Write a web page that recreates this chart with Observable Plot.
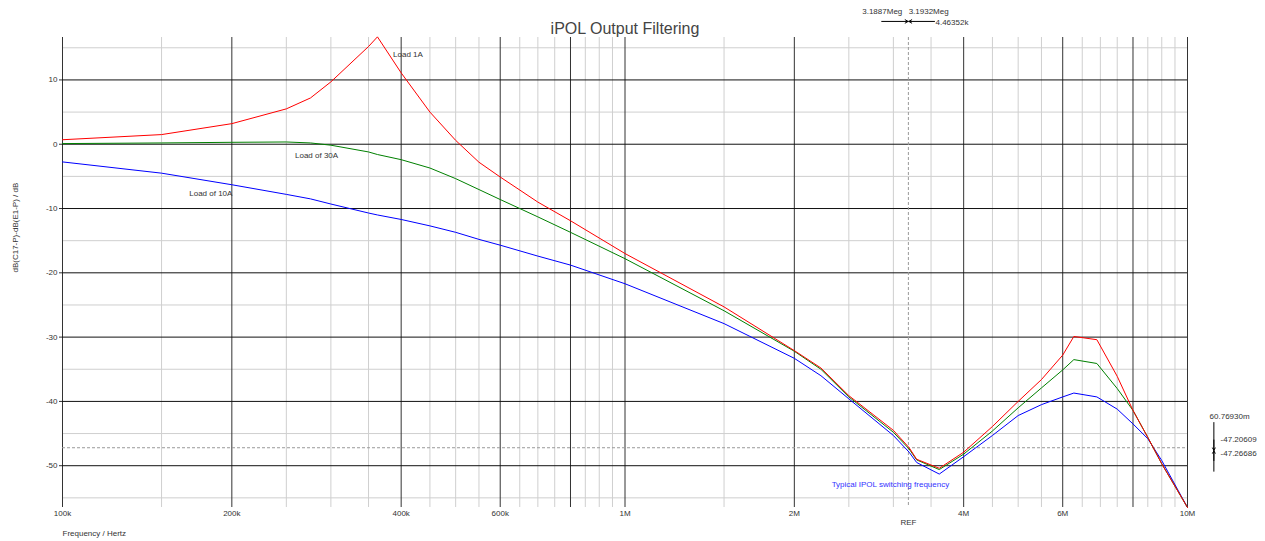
<!DOCTYPE html>
<html><head><meta charset="utf-8">
<script src="https://cdn.jsdelivr.net/npm/d3@7"></script>
<script src="https://cdn.jsdelivr.net/npm/@observablehq/plot@0.6"></script>
<style>body{margin:0;background:#fff;font-family:"Liberation Sans",Arial,sans-serif}</style>
</head><body><div id="chart"></div>
<script>
// Frequency samples (Hz)
const freq = [1e5,1.5e5,2e5,2.5e5,2.76e5,3e5,3.5e5,3.63e5,4e5,4.5e5,5e5,5.5e5,6e5,7e5,8e5,1e6,1.5e6,2e6,2.23e6,2.5e6,3e6,3.2e6,3.3e6,3.62e6,4e6,4.5e6,5e6,5.5e6,6e6,6.28e6,6.9e6,7.5e6,8e6,8.5e6,9e6,1e7];
// dB values per load
const load1A  = [0.7,1.5,3.2,5.5,7.2,9.7,15.2,16.7,11.1,5.0,0.6,-2.8,-5.1,-9.0,-11.9,-17.0,-25.3,-32.1,-34.8,-39.1,-44.5,-47.2,-49.0,-50.4,-47.9,-43.9,-40.0,-36.6,-32.8,-29.9,-30.4,-36.1,-41.4,-45.6,-49.7,-56.5];
const load30A = [0.1,0.2,0.3,0.35,0.2,-0.15,-1.2,-1.6,-2.4,-3.7,-5.35,-7.05,-8.6,-11.3,-13.7,-17.8,-25.9,-32.2,-35.0,-39.3,-44.8,-47.4,-49.1,-50.6,-48.2,-44.6,-41.0,-37.9,-35.1,-33.5,-34.1,-38.0,-41.4,-45.6,-49.7,-56.5];
const load10A = [-2.75,-4.5,-6.3,-7.8,-8.5,-9.3,-10.7,-11.0,-11.7,-12.7,-13.7,-14.8,-15.7,-17.4,-18.8,-21.7,-27.9,-33.3,-36.0,-39.6,-45.3,-47.9,-49.5,-51.3,-48.6,-45.3,-42.2,-40.5,-39.3,-38.7,-39.3,-41.2,-43.5,-45.8,-49.2,-56.5];
// Axes / grid
const xMajor = [1e5,2e5,4e5,6e5,8e5,1e6,2e6,4e6,6e6,8e6,1e7];
const xLabels = ["100k","200k","400k","600k","800k","1M","2M","4M","6M","8M","10M"];
const xMinor = [1.5e5,2.5e5,3e5,3.5e5,4.5e5,5e5,5.5e5,6.5e5,7e5,7.5e5,8.5e5,9e5,9.5e5,1.5e6,2.5e6,3e6,3.5e6,4.5e6,5e6,5.5e6,6.5e6,7e6,7.5e6,8.5e6,9e6,9.5e6];
const yMajor = [10,0,-10,-20,-30,-40,-50];
const yLabels = ["10","0","-10","-20","-30","-40","-50"];
const yMinor = [15,5,-5,-15,-25,-35,-45,-55];
// Cursor readings
const cursorFreq = 3.19e6;
const cursorLevel = -47.206;

const series = [
  {name:"Load of 10A", vals:load10A, color:"#0000ff"},
  {name:"Load of 30A", vals:load30A, color:"#008000"},
  {name:"Load 1A", vals:load1A, color:"#ff0000"}
];
const rows = series.flatMap(s => freq.map((f,i)=>({f, db:s.vals[i], name:s.name})));
const colorOf = Object.fromEntries(series.map(s=>[s.name,s.color]));

const font = "Liberation Sans, Arial, sans-serif";
const chart = Plot.plot({
  width:1265, height:541,
  marginLeft:62, marginRight:78, marginTop:37, marginBottom:34,
  x:{type:"log", domain:[1e5,1e7]},
  y:{domain:[-56.5,16.6]},
  style:{fontFamily:font, fontSize:"8px", color:"#333", background:"#fff", overflow:"visible"},
  marks:[
    Plot.ruleX(xMinor, {stroke:"#cfcfcf", strokeWidth:1}),
    Plot.ruleY(yMinor, {stroke:"#cfcfcf", strokeWidth:1}),
    Plot.ruleX(xMajor, {stroke:"#333", strokeWidth:1}),
    Plot.ruleY(yMajor, {stroke:"#111", strokeWidth:1}),
    Plot.ruleY([cursorLevel], {stroke:"#999", strokeDasharray:"3,2"}),
    Plot.ruleX([cursorFreq], {stroke:"#999", strokeDasharray:"3,2"}),
    Plot.line(rows, {x:"f", y:"db", z:"name", stroke:d=>colorOf[d.name], strokeWidth:1}),
    Plot.axisY(yMajor, {tickSize:3, tickPadding:2, fontSize:8, label:null, tickFormat:d=>yLabels[yMajor.indexOf(d)]}),
    Plot.axisX(xMajor, {tickSize:0, tickPadding:3, fontSize:8, label:null, tickFormat:d=>xLabels[xMajor.indexOf(d)]}),
    // Title and axis labels
    Plot.text(["iPOL Output Filtering"], {frameAnchor:"top", dy:-15, fontSize:16, fill:"#444"}),
    Plot.text(["dB(C17-P)-dB(E1-P) / dB"], {frameAnchor:"left", dx:-47, rotate:-90, fontSize:8, fill:"#333"}),
    Plot.text(["Frequency / Hertz"], {frameAnchor:"bottom-left", dy:28, textAnchor:"start", fontSize:8, fill:"#333"}),
    Plot.text(["REF"], {x:cursorFreq, frameAnchor:"bottom", dy:17, fontSize:8, fill:"#333"}),
    // Curve labels
    Plot.text(["Load 1A"], {x:3.87e5, y:14.0, textAnchor:"start", fontSize:8, fill:"#333"}),
    Plot.text(["Load of 30A"], {x:2.59e5, y:-1.8, textAnchor:"start", fontSize:8, fill:"#333"}),
    Plot.text(["Load of 10A"], {x:1.68e5, y:-7.66, textAnchor:"start", fontSize:8, fill:"#333"}),
    Plot.text(["Typical IPOL switching frequency"], {x:2.33e6, y:-52.9, textAnchor:"start", fontSize:8, fill:"#3333ff"}),
    // Top cursor readout
    Plot.text(["3.1887Meg"], {x:3.1887e6, y:20.6, textAnchor:"end", dx:-6, fontSize:8, fill:"#333"}),
    Plot.text(["3.1932Meg"], {x:3.1932e6, y:20.6, textAnchor:"start", dx:0, fontSize:8, fill:"#333"}),
    Plot.arrow([0], {x1:2.86e6, x2:3.186e6, y1:19.1, y2:19.1, stroke:"#000", strokeWidth:1, headLength:5}),
    Plot.arrow([0], {x1:3.55e6, x2:3.196e6, y1:19.1, y2:19.1, stroke:"#000", strokeWidth:1, headLength:5}),
    Plot.text(["4.46352k"], {x:3.55e6, y:18.9, textAnchor:"start", dx:1, fontSize:8, fill:"#333"}),
    // Right cursor readout
    Plot.ruleX([11.14e6], {y1:-43.3, y2:-51.0, stroke:"#000", strokeWidth:1}),
    Plot.text(["60.76930m"], {x:11.88e6, y:-42.3, fontSize:8, fill:"#333"}),
    Plot.arrow([0], {x1:11.14e6, x2:11.14e6, y1:-46.0, y2:-47.6, stroke:"#000", strokeWidth:1, headLength:4}),
    Plot.arrow([0], {x1:11.14e6, x2:11.14e6, y1:-49.2, y2:-47.7, stroke:"#000", strokeWidth:1, headLength:4}),
    Plot.text(["-47.20609"], {x:11.45e6, y:-45.97, textAnchor:"start", fontSize:8, fill:"#333"}),
    Plot.text(["-47.26686"], {x:11.45e6, y:-48.05, textAnchor:"start", fontSize:8, fill:"#333"})
  ]
});
document.getElementById("chart").appendChild(chart);
</script>
</body></html>
